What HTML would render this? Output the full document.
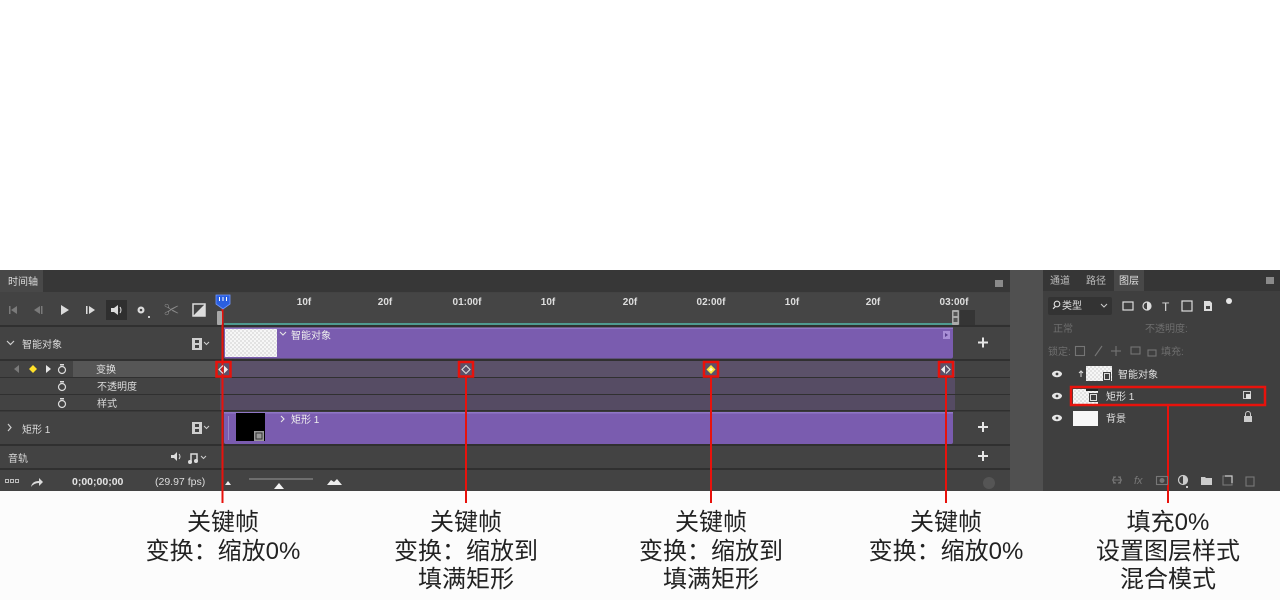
<!DOCTYPE html>
<html><head><meta charset="utf-8">
<style>
html,body{margin:0;padding:0;background:#fff;}
body{width:1280px;height:600px;position:relative;overflow:hidden;font-family:"Liberation Sans","Noto Sans CJK SC",sans-serif;}
svg{position:absolute;left:0;top:0;}
svg text{font-family:"Liberation Sans","Noto Sans CJK SC",sans-serif;}
.lab{position:absolute;top:509px;width:300px;text-align:center;font-size:24px;line-height:28.5px;color:#222;font-weight:400;font-family:"Liberation Sans","Noto Sans CJK SC",sans-serif;white-space:nowrap;}
</style></head><body>
<svg width="1280" height="600" viewBox="0 0 1280 600">
<defs>
<pattern id="chk" width="4" height="4" patternUnits="userSpaceOnUse">
<rect width="4" height="4" fill="#f6f6f6"/><rect width="2" height="2" fill="#e2e2e2"/><rect x="2" y="2" width="2" height="2" fill="#e2e2e2"/>
</pattern>
</defs>
<rect width="1280" height="600" fill="#fff"/>
<rect y="491" width="1280" height="109" fill="#fcfcfc"/>
<!-- panel base -->
<rect y="270" width="1280" height="221" fill="#434343"/>
<!-- timeline tab bar -->
<rect y="270" width="1010" height="22" fill="#373737"/>
<rect y="270" width="43" height="22" fill="#484848"/>
<text x="8" y="285" font-size="10" fill="#dcdcdc">时间轴</text>
<rect x="995" y="280" width="8" height="7" fill="#8a8a8a"/>
<!-- gray column -->
<rect x="1010" y="270" width="33" height="221" fill="#505050"/>
<!-- layers panel -->
<rect x="1043" y="270" width="237" height="221" fill="#3f3f3f"/>
<rect x="1043" y="270" width="237" height="21" fill="#363636"/>
<rect x="1114" y="270" width="30" height="21" fill="#484848"/>
<text x="1050" y="284" font-size="10" fill="#bdbdbd">通道</text>
<text x="1086" y="284" font-size="10" fill="#bdbdbd">路径</text>
<text x="1119" y="284" font-size="10" fill="#e0e0e0">图层</text>
<rect x="1266" y="277" width="8" height="7" fill="#8a8a8a"/>

<!-- controls row -->
<g fill="#7a7a7a">
<rect x="9" y="306" width="1.5" height="8"/><polygon points="17,306 17,314 11,310"/>
<polygon points="40,306 40,314 34,310"/><rect x="41" y="306" width="1.5" height="8"/>
</g>
<polygon points="61,305 61,315 69,310" fill="#dcdcdc"/>
<rect x="86" y="306" width="1.5" height="8" fill="#dcdcdc"/><polygon points="89,306 89,314 95,310" fill="#dcdcdc"/>
<rect x="106" y="300" width="21" height="20" fill="#2f2f2f"/>
<polygon points="111,308 114,308 118,305 118,315 114,312 111,312" fill="#dcdcdc"/>
<path d="M120,307 q2,3 0,6" stroke="#dcdcdc" stroke-width="1" fill="none"/>
<circle cx="141" cy="310" r="3.5" fill="#dcdcdc"/><circle cx="141" cy="310" r="1.3" fill="#424242"/>
<rect x="148" y="316" width="2" height="2" fill="#ccc"/>
<text x="164" y="315" font-size="15" fill="#8a8a8a" font-family="DejaVu Sans">✂</text>
<rect x="193" y="304" width="12" height="12" fill="none" stroke="#dcdcdc" stroke-width="1.5"/>
<polygon points="205,304 205,316 193,316" fill="#dcdcdc"/>

<!-- ruler -->
<rect x="220" y="293" width="790" height="31" fill="#454545"/>
<g font-size="10" fill="#dedede" text-anchor="middle" font-weight="bold">
<text x="304" y="305">10f</text><text x="385" y="305">20f</text><text x="467" y="305">01:00f</text>
<text x="548" y="305">10f</text><text x="630" y="305">20f</text><text x="711" y="305">02:00f</text>
<text x="792" y="305">10f</text><text x="873" y="305">20f</text><text x="954" y="305">03:00f</text>
</g>
<rect x="224" y="323" width="729" height="2" fill="#4f9a90"/>
<rect x="952" y="310" width="7" height="15" rx="1" fill="#aaa"/><rect x="953.5" y="312" width="4" height="4" fill="#555"/><rect x="953.5" y="318" width="4" height="4" fill="#555"/>
<rect x="960" y="310" width="15" height="15" fill="#353535"/>

<!-- row separators -->
<g fill="#303030">
<rect y="325" width="1010" height="2"/>
<rect y="359" width="1010" height="2"/>
<rect y="377" width="1010" height="1"/>
<rect y="394" width="1010" height="1"/>
<rect y="410" width="1010" height="1.5"/>
<rect y="444" width="1010" height="2"/>
<rect y="468" width="1010" height="2"/>
</g>

<!-- left column rows -->
<polyline points="7,341 10.5,344.5 14,341" stroke="#cfcfcf" stroke-width="1.2" fill="none"/>
<text x="22" y="348" font-size="10" fill="#dcdcdc">智能对象</text>
<g>
<rect x="192" y="338" width="10" height="12" fill="#cfcfcf"/><rect x="195" y="340" width="4" height="3" fill="#424242"/><rect x="195" y="345" width="4" height="3" fill="#424242"/>
<polyline points="204,342 206.5,344.5 209,342" stroke="#cfcfcf" stroke-width="1" fill="none"/>
</g>
<rect x="73" y="361" width="147" height="16" fill="#565656"/>
<polygon points="19,365 19,373 14,369" fill="#7a7a7a"/>
<polygon points="33,365 37,369 33,373 29,369" fill="#ffe12a"/>
<polygon points="46,365 46,373 51,369" fill="#e6e6e6"/>
<g stroke="#dcdcdc" stroke-width="1.2" fill="none">
<circle cx="62" cy="370" r="3.5"/><circle cx="62" cy="387" r="3.5"/><circle cx="62" cy="404" r="3.5"/>
</g>
<g fill="#dcdcdc"><rect x="60" y="364" width="4" height="1.5"/><rect x="60" y="381" width="4" height="1.5"/><rect x="60" y="398" width="4" height="1.5"/></g>
<text x="96" y="373" font-size="10" fill="#e0e0e0">变换</text>
<text x="97" y="390" font-size="10" fill="#dcdcdc">不透明度</text>
<text x="97" y="407" font-size="10" fill="#dcdcdc">样式</text>
<polyline points="8,424 11,427.5 8,431" stroke="#cfcfcf" stroke-width="1.2" fill="none"/>
<text x="22" y="433" font-size="10" fill="#dcdcdc">矩形 1</text>
<g>
<rect x="192" y="422" width="10" height="12" fill="#cfcfcf"/><rect x="195" y="424" width="4" height="3" fill="#424242"/><rect x="195" y="429" width="4" height="3" fill="#424242"/>
<polyline points="204,426 206.5,428.5 209,426" stroke="#cfcfcf" stroke-width="1" fill="none"/>
</g>
<text x="8" y="462" font-size="10" fill="#dcdcdc">音轨</text>
<polygon points="171,455 174,455 177,452 177,461 174,458 171,458" fill="#dcdcdc"/>
<path d="M179,454 q2,2.5 0,5" stroke="#dcdcdc" stroke-width="1" fill="none"/>
<path d="M191,462 v-8 h6 v7" stroke="#dcdcdc" stroke-width="1.5" fill="none"/>
<circle cx="190" cy="462" r="2" fill="#dcdcdc"/><circle cx="196" cy="461" r="2" fill="#dcdcdc"/>
<polyline points="201,456 203.5,458.5 206,456" stroke="#cfcfcf" stroke-width="1" fill="none"/>

<!-- bottom row -->
<g fill="none" stroke="#bbb" stroke-width="1">
<rect x="5.5" y="479.5" width="3" height="3"/><rect x="10.5" y="479.5" width="3" height="3"/><rect x="15.5" y="479.5" width="3" height="3"/>
</g>
<path d="M31,487 q1,-6 8,-6 v-3 l4,4 l-4,4 v-3 q-5,0 -8,4z" fill="#dcdcdc"/>
<text x="72" y="485" font-size="10.5" font-weight="bold" fill="#e4e4e4">0;00;00;00</text>
<text x="155" y="485" font-size="10.5" fill="#dcdcdc">(29.97 fps)</text>
<polygon points="225,485 228,481 231,485" fill="#eee"/>
<rect x="249" y="478" width="64" height="2" fill="#6e6e6e"/>
<polygon points="274,489 279,483 284,489" fill="#f2f2f2"/>
<polygon points="327,485 331,480 334,482 337,479 342,485" fill="#eee"/>
<circle cx="989" cy="483" r="6" fill="#555"/>

<!-- track: smart object -->
<rect x="224" y="327.5" width="729" height="31" rx="2" fill="#7a5caf"/>
<rect x="224" y="327.5" width="729" height="1.5" fill="#9077c6"/>
<rect x="225" y="329" width="52" height="28" fill="url(#chk)"/>
<polyline points="280,332 283,335 286,332" stroke="#e6e6e6" stroke-width="1.1" fill="none"/>
<text x="291" y="339" font-size="10" fill="#eeeeee">智能对象</text>
<rect x="943" y="331" width="7" height="8" fill="#a88ed6"/><polygon points="945,333 945,337 948,335" fill="#5b3f8f"/>
<!-- keyframe rows -->
<rect x="220" y="361" width="735" height="16" fill="#5b5169"/>
<rect x="220" y="378" width="735" height="16" fill="#564c64"/>
<rect x="220" y="395" width="735" height="15" fill="#554b63"/>
<!-- track: rect -->
<rect x="224" y="412" width="729" height="32" rx="2" fill="#7a5caf"/>
<rect x="224" y="412" width="729" height="1.5" fill="#9077c6"/>
<rect x="228" y="416" width="1" height="24" fill="#9a86c6"/>
<rect x="236" y="413" width="29" height="28" fill="#000"/>
<rect x="254" y="431" width="10" height="10" fill="#999"/><rect x="256" y="433" width="6" height="6" fill="none" stroke="#333" stroke-width="1"/>
<polyline points="281,416 284,419 281,422" stroke="#e6e6e6" stroke-width="1.1" fill="none"/>
<text x="291" y="423" font-size="10" fill="#eeeeee">矩形 1</text>
<!-- plus signs -->
<g fill="#e6e6e6">
<rect x="978" y="341.5" width="10" height="2"/><rect x="982" y="337.5" width="2" height="10"/>
<rect x="978" y="426" width="10" height="2"/><rect x="982" y="422" width="2" height="10"/>
<rect x="978" y="455" width="10" height="2"/><rect x="982" y="451" width="2" height="10"/>
</g>

<!-- playhead -->
<rect x="221.5" y="309" width="2" height="194" fill="#e8120c"/>
<path d="M216,295 h14 v9 l-7,5 l-7,-5z" fill="#2a5fe0" stroke="#6e95ff" stroke-width="0.8"/>
<g fill="#fff"><rect x="219" y="297" width="1" height="4"/><rect x="222.5" y="297" width="1" height="4"/><rect x="226" y="297" width="1" height="4"/></g>
<rect x="217" y="311" width="5" height="14" rx="1" fill="#a8a8a8"/>

<!-- keyframes -->
<g>
<path d="M223,365.5 L219,369.5 L223,373.5" fill="none" stroke="#e8e8e8" stroke-width="1.1"/>
<polygon points="224,365.5 228,369.5 224,373.5" fill="#eeeeee"/>
<polygon points="466,365.5 470,369.5 466,373.5 462,369.5" fill="none" stroke="#dcdcdc" stroke-width="1.1"/>
<polygon points="711,365 715.5,369.5 711,374 706.5,369.5" fill="#ffe73a"/>
<polygon points="711,367.5 713,369.5 711,371.5 709,369.5" fill="#fffbd0"/>
<polygon points="945,365.5 945,373.5 941,369.5" fill="#eeeeee"/>
<path d="M946,365.5 L950,369.5 L946,373.5" fill="none" stroke="#e8e8e8" stroke-width="1.1"/>
</g>
<g fill="none" stroke="#e8120c" stroke-width="2.5">
<rect x="216.5" y="362" width="14" height="14.5"/>
<rect x="459" y="362" width="14" height="14.5"/>
<rect x="704" y="362" width="14" height="14.5"/>
<rect x="939" y="362" width="14" height="14.5"/>
</g>
<g fill="#e8120c">
<rect x="465" y="377" width="2" height="126"/>
<rect x="710" y="377" width="2" height="126"/>
<rect x="945" y="377" width="2" height="126"/>
<rect x="1167" y="405" width="2" height="98"/>
</g>

<!-- layers panel content -->
<rect x="1048" y="297" width="64" height="18" rx="2" fill="#333"/>
<circle cx="1057" cy="304" r="2.8" fill="none" stroke="#e0e0e0" stroke-width="1.1"/><rect x="1052" y="307" width="3" height="1.2" transform="rotate(-45 1054 307)" fill="#e0e0e0"/>
<text x="1062" y="309" font-size="10" fill="#e0e0e0">类型</text>
<polyline points="1101,304 1104,307 1107,304" stroke="#ccc" stroke-width="1" fill="none"/>
<g fill="none" stroke="#dcdcdc" stroke-width="1.2">
<rect x="1123" y="302" width="10" height="8"/>
<circle cx="1147" cy="306" r="4"/>
<rect x="1182" y="301" width="10" height="10"/>
</g>
<path d="M1147,302 a4,4 0 0 1 0,8z" fill="#dcdcdc"/>
<text x="1162" y="311" font-size="12" fill="#dcdcdc" font-family="Liberation Serif">T</text>
<path d="M1204,301 h6 l2,2 v8 h-8z" fill="#dcdcdc"/><rect x="1206" y="306" width="4" height="3" fill="#444"/>
<circle cx="1229" cy="301" r="3" fill="#e6e6e6"/>
<text x="1053" y="332" font-size="10" fill="#6e6e6e">正常</text>
<text x="1145" y="332" font-size="10" fill="#6e6e6e">不透明度:</text>
<text x="1048" y="355" font-size="10" fill="#6e6e6e">锁定:</text>
<g fill="none" stroke="#757575" stroke-width="1.1">
<rect x="1075.5" y="346.5" width="9" height="9"/>
<line x1="1095" y1="356" x2="1102" y2="346"/>
<line x1="1111" y1="351" x2="1121" y2="351"/><line x1="1116" y1="346" x2="1116" y2="356"/>
<rect x="1131" y="347" width="9" height="7"/>
<rect x="1148" y="350" width="8" height="6"/>
</g>
<text x="1161" y="355" font-size="10" fill="#6e6e6e">填充:</text>
<!-- eyes -->
<g>
<ellipse cx="1057" cy="374" rx="5" ry="3.2" fill="#e6e6e6"/><circle cx="1057" cy="374" r="1.4" fill="#3f3f3f"/>
<ellipse cx="1057" cy="396" rx="5" ry="3.2" fill="#e6e6e6"/><circle cx="1057" cy="396" r="1.4" fill="#3f3f3f"/>
<ellipse cx="1057" cy="418" rx="5" ry="3.2" fill="#e6e6e6"/><circle cx="1057" cy="418" r="1.4" fill="#3f3f3f"/>
</g>
<path d="M1081,372 v5 M1079,373 l2,-2 l2,2" stroke="#ddd" stroke-width="1" fill="none"/>
<rect x="1086" y="366" width="26" height="15" fill="url(#chk)"/>
<rect x="1103" y="372" width="8" height="9" fill="#3f3f3f"/><rect x="1104.5" y="373.5" width="5" height="6" fill="none" stroke="#ddd" stroke-width="1"/>
<text x="1118" y="378" font-size="10" fill="#e0e0e0">智能对象</text>
<rect x="1073" y="389" width="25" height="15" fill="url(#chk)"/>
<rect x="1086" y="389" width="12" height="2" fill="#222"/>
<rect x="1089" y="393" width="9" height="9" fill="#3f3f3f"/><rect x="1090.5" y="394.5" width="6" height="6" fill="none" stroke="#ddd" stroke-width="1"/>
<text x="1106" y="400" font-size="10" fill="#e0e0e0">矩形 1</text>
<rect x="1243.5" y="391.5" width="7" height="7" fill="none" stroke="#ccc" stroke-width="1"/><rect x="1246" y="394" width="5" height="5" fill="#ddd"/>
<rect x="1073" y="411" width="25" height="15" fill="#f7f7f7"/>
<text x="1106" y="422" font-size="10" fill="#e0e0e0">背景</text>
<rect x="1244" y="416" width="8" height="6" fill="#ccc"/><path d="M1245.5,416 v-2 a2.5,2.5 0 0 1 5,0 v2" stroke="#ccc" stroke-width="1" fill="none"/>
<rect x="1071" y="387" width="194" height="18" fill="none" stroke="#e8120c" stroke-width="2.5"/>
<!-- layers bottom icons -->
<g fill="none" stroke="#777" stroke-width="1.1">
<path d="M1112,480 h10 M1113,477 h3 a3,3 0 0 0 0,6 h-3 M1121,477 h-3 a3,3 0 0 1 0,6 h3"/>
<rect x="1156.5" y="476.5" width="11" height="8"/>
<rect x="1223" y="476" width="9" height="9"/>
<rect x="1246" y="477" width="8" height="9"/>
</g>
<text x="1134" y="484" font-size="11" font-style="italic" fill="#777">fx</text>
<circle cx="1162" cy="480.5" r="2.5" fill="#777"/>
<circle cx="1183" cy="480" r="4.5" fill="none" stroke="#ccc" stroke-width="1.2"/><path d="M1183,475.5 a4.5,4.5 0 0 1 0,9z" fill="#ccc"/>
<rect x="1186" y="486" width="2" height="2" fill="#ccc"/>
<path d="M1201,477 h4 l1,1 h6 v7 h-11z" fill="#ccc"/>
<path d="M1225,476 h7 v7" stroke="#ccc" fill="none" stroke-width="1.2"/>
</svg>

<div class="lab" style="left:73px;">关键帧<br>变换：缩放0%</div>
<div class="lab" style="left:316px;">关键帧<br>变换：缩放到<br>填满矩形</div>
<div class="lab" style="left:561px;">关键帧<br>变换：缩放到<br>填满矩形</div>
<div class="lab" style="left:796px;">关键帧<br>变换：缩放0%</div>
<div class="lab" style="left:1018px;">填充0%<br>设置图层样式<br>混合模式</div>
</body></html>
